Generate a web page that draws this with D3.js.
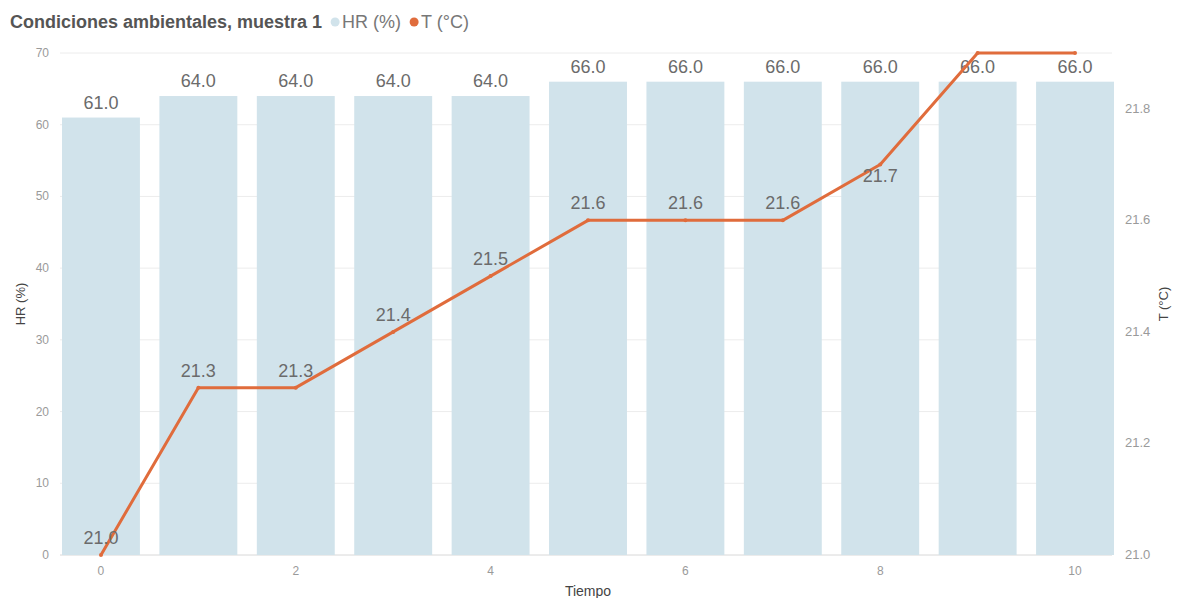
<!DOCTYPE html>
<html>
<head>
<meta charset="utf-8">
<script src="https://cdn.jsdelivr.net/npm/d3@7"></script>
<style>
  body { margin: 0; background: #fff; }
  svg { font-family: "Liberation Sans", Arial, sans-serif; }
</style>
</head>
<body>
<svg id="chart" width="1177" height="598"></svg>
<script>
// Muestra 1: humedad relativa (barras) y temperatura (línea) en el tiempo
const tiempo = [0, 1, 2, 3, 4, 5, 6, 7, 8, 9, 10];
const humedad = [61, 64, 64, 64, 64, 66, 66, 66, 66, 66, 66];
const temperatura = [21.0, 21.3, 21.3, 21.4, 21.5, 21.6, 21.6, 21.6, 21.7, 21.9, 21.9];
const ticksHR = [0, 10, 20, 30, 40, 50, 60, 70];
const ticksT = [21.0, 21.2, 21.4, 21.6, 21.8];
const ticksTiempo = [0, 2, 4, 6, 8, 10];

const svg = d3.select("#chart");
const m = { left: 62, right: 1114, top: 53, bottom: 555 };

const x = d3.scaleBand().domain(tiempo).range([m.left, m.right]).paddingInner(0.2).paddingOuter(0);
const yHR = d3.scaleLinear().domain([0, 70]).range([m.bottom, m.top]);
const yT = d3.scaleLinear().domain([21.0, 21.9]).range([m.bottom, m.top]);

const barColor = "#d1e3eb";
const lineColor = "#e06c3c";
const labelColor = "#6b6b6b";

// líneas de cuadrícula
svg.append("g").selectAll("line").data(ticksHR).join("line")
  .attr("x1", m.left - 2).attr("x2", m.right - 2)
  .attr("y1", d => yHR(d)).attr("y2", d => yHR(d))
  .attr("stroke", d => d === 0 ? "#d8d8d8" : "#ececec").attr("stroke-width", 1);

// barras HR
svg.append("g").selectAll("rect").data(tiempo).join("rect")
  .attr("x", d => x(d)).attr("width", x.bandwidth())
  .attr("y", (d, i) => yHR(humedad[i]))
  .attr("height", (d, i) => yHR(0) - yHR(humedad[i]))
  .attr("fill", barColor);

// etiquetas de las barras
svg.append("g").selectAll("text").data(tiempo).join("text")
  .attr("x", d => x(d) + x.bandwidth() / 2)
  .attr("y", (d, i) => yHR(humedad[i]) - 9)
  .attr("text-anchor", "middle")
  .attr("font-size", 18).attr("fill", labelColor)
  .text((d, i) => humedad[i].toFixed(1));

// línea de temperatura
const cx = d => x(d) + x.bandwidth() / 2;
const line = d3.line().x((d, i) => cx(tiempo[i])).y(d => yT(d));
svg.append("path").datum(temperatura)
  .attr("d", line).attr("fill", "none")
  .attr("stroke", lineColor).attr("stroke-width", 3).attr("stroke-linejoin", "round");
svg.append("g").selectAll("circle").data(temperatura).join("circle")
  .attr("cx", (d, i) => cx(tiempo[i])).attr("cy", d => yT(d))
  .attr("r", 2).attr("fill", lineColor);

// etiquetas de temperatura: encima del punto, debajo si el tramo siguiente las cruza
const tLabels = svg.append("g");
temperatura.forEach((v, i) => {
  const px = cx(tiempo[i]), py = yT(v);
  let ly = py - 11;
  if (i < temperatura.length - 1) {
    const nx = cx(tiempo[i + 1]), ny = yT(temperatura[i + 1]);
    const lineAt = py + (ny - py) * (18 / (nx - px));
    if (lineAt > ly - 13 && lineAt < ly) ly = py + 17;
  }
  if (ly - 14 < m.top) return;
  tLabels.append("text")
    .attr("x", px).attr("y", ly)
    .attr("text-anchor", "middle")
    .attr("font-size", 18).attr("fill", labelColor)
    .text(v.toFixed(1));
});

// eje izquierdo
svg.append("g").selectAll("text").data(ticksHR).join("text")
  .attr("x", 49).attr("y", d => yHR(d) + 4)
  .attr("text-anchor", "end").attr("font-size", 12).attr("fill", "#9a9a9a")
  .text(d => d);

// eje derecho
svg.append("g").selectAll("text").data(ticksT).join("text")
  .attr("x", 1125).attr("y", d => yT(d) + 4)
  .attr("text-anchor", "start").attr("font-size", 13).attr("fill", "#9a9a9a")
  .text(d => d.toFixed(1));

// eje inferior
svg.append("g").selectAll("text").data(ticksTiempo).join("text")
  .attr("x", d => cx(d)).attr("y", 575)
  .attr("text-anchor", "middle").attr("font-size", 12).attr("fill", "#9a9a9a")
  .text(d => d);

// títulos de ejes
svg.append("text").attr("transform", `translate(25,${(m.top + m.bottom) / 2}) rotate(-90)`)
  .attr("text-anchor", "middle").attr("font-size", 13).attr("fill", "#444").text("HR (%)");
svg.append("text").attr("transform", `translate(1168,${(m.top + m.bottom) / 2}) rotate(-90)`)
  .attr("text-anchor", "middle").attr("font-size", 13).attr("fill", "#444").text("T (°C)");
svg.append("text").attr("x", 588).attr("y", 596)
  .attr("text-anchor", "middle").attr("font-size", 14).attr("fill", "#444").text("Tiempo");

// título y leyenda
const head = svg.append("g");
const title = head.append("text").attr("x", 10).attr("y", 28)
  .attr("font-size", 18).attr("font-weight", "bold").attr("fill", "#555")
  .text("Condiciones ambientales, muestra 1");
let lx = 10 + title.node().getComputedTextLength() + 9;
[["HR (%)", barColor], ["T (°C)", lineColor]].forEach(([name, col]) => {
  head.append("circle").attr("cx", lx + 4).attr("cy", 22).attr("r", 4.5).attr("fill", col);
  const t = head.append("text").attr("x", lx + 11).attr("y", 28)
    .attr("font-size", 18).attr("fill", "#777").text(name);
  lx += 11 + t.node().getComputedTextLength() + 9;
});
</script>
</body>
</html>
